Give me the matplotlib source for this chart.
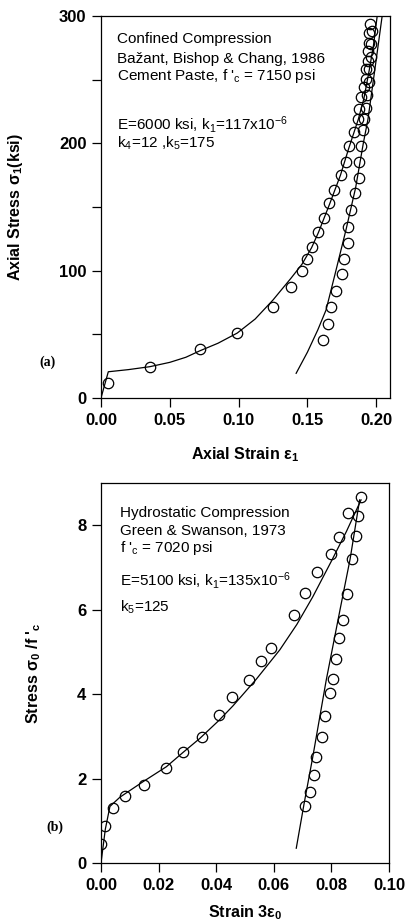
import matplotlib
matplotlib.use("Agg")
import matplotlib.pyplot as plt
from matplotlib.ticker import MultipleLocator, NullFormatter

plt.rcParams['font.family'] = ['Liberation Sans', 'DejaVu Sans']
plt.rcParams['mathtext.fontset'] = 'custom'
plt.rcParams['mathtext.rm'] = 'Liberation Sans'
plt.rcParams['mathtext.it'] = 'Liberation Sans:italic'
plt.rcParams['mathtext.bf'] = 'Liberation Sans:bold'
plt.rcParams['mathtext.default'] = 'regular'

# ---------------- Panel (a): confined compression ----------------
a_load_pts_strain = [0.0053, 0.0355, 0.0717, 0.099, 0.125, 0.138, 0.1457, 0.1495, 0.1534,
                     0.158, 0.1623, 0.166, 0.1696, 0.1744, 0.178, 0.1804, 0.184, 0.1865,
                     0.1877, 0.1889, 0.1913, 0.1925, 0.1925, 0.1937, 0.1942, 0.195, 0.195, 0.1955]
a_load_pts_stress = [11.5, 24.6, 38.2, 50.8, 71.5, 87.4, 99.5, 109, 118.4,
                     130.6, 141, 153, 163.4, 175, 185, 198, 209, 219,
                     227, 236, 244, 250.5, 258, 264.7, 272.5, 279, 287, 294]
a_unl_pts_strain = [0.161, 0.1652, 0.167, 0.1708, 0.1749, 0.1763, 0.1792, 0.1792, 0.1817,
                    0.1848, 0.1872, 0.1877, 0.1889, 0.1906, 0.1913, 0.1925, 0.1935, 0.1945,
                    0.195, 0.196, 0.1965, 0.197]
a_unl_pts_stress = [45.6, 57.9, 71.7, 84.3, 97.4, 109, 122, 134.6, 147.7,
                    160.8, 172.6, 185.6, 198, 210.6, 219, 228, 238, 248,
                    258, 268, 278, 288]
a_load_line_strain = [0.0, 0.0053, 0.02, 0.0355, 0.05, 0.0617, 0.0717, 0.085, 0.099, 0.112,
                      0.125, 0.138, 0.146, 0.153, 0.158, 0.166, 0.174, 0.18, 0.187, 0.191,
                      0.195, 0.198, 0.2007]
a_load_line_stress = [0.0, 20.6, 22.3, 24.6, 28.0, 32.0, 37.0, 43.0, 51.0, 62.0,
                      77.0, 94, 105, 118, 130, 152, 175, 196, 219, 235,
                      258, 277, 300]
a_unl_line_strain = [0.1418, 0.150, 0.1575, 0.1635, 0.170, 0.178, 0.185, 0.1906, 0.194, 0.199, 0.2043]
a_unl_line_stress = [19.4, 36, 53.4, 69, 97, 132, 165, 200, 219, 258, 300]

a_texts = ["Confined Compression",
           "Ba\u017eant, Bishop & Chang, 1986",
           "Cement Paste, f '$_{c}$ = 7150 psi",
           "E=6000 ksi, k$_{1}$=117x10$^{-6}$",
           "k$_{4}$=12 ,k$_{5}$=175"]

# ---------------- Panel (b): hydrostatic compression ----------------
b_load_pts_strain = [0.0, 0.0014, 0.0043, 0.0084, 0.0149, 0.0224, 0.0284, 0.0349, 0.0409, 0.0456,
                     0.0514, 0.0557, 0.0592, 0.0669, 0.0709, 0.0751, 0.0797, 0.0828, 0.0857, 0.0903]
b_load_pts_stress = [0.45, 0.87, 1.3, 1.58, 1.85, 2.24, 2.62, 2.99, 3.51, 3.92,
                     4.33, 4.78, 5.1, 5.88, 6.4, 6.9, 7.31, 7.71, 8.28, 8.68]
b_unl_pts_strain = [0.0892, 0.0886, 0.0872, 0.0854, 0.084, 0.0828, 0.0817, 0.0805, 0.0796,
                    0.0779, 0.0767, 0.0748, 0.0738, 0.0724, 0.071]
b_unl_pts_stress = [8.22, 7.74, 7.2, 6.37, 5.75, 5.32, 4.82, 4.36, 4.02,
                    3.47, 2.99, 2.52, 2.09, 1.67, 1.35]
b_load_line_strain = [0.0, 0.0015, 0.0031, 0.0066, 0.0147, 0.0227, 0.0285, 0.0343, 0.041, 0.0458,
                      0.054, 0.0621, 0.068, 0.0735, 0.08, 0.0852, 0.0903]
b_load_line_stress = [0.0, 0.8, 1.34, 1.56, 1.93, 2.28, 2.62, 2.95, 3.38, 3.72,
                      4.36, 5.05, 5.65, 6.3, 7.15, 7.85, 8.6]
b_unl_line_strain = [0.0678, 0.0705, 0.0735, 0.0782, 0.083, 0.0865, 0.0898]
b_unl_line_stress = [0.35, 1.4, 2.5, 4.33, 6.0, 7.2, 8.6]

b_texts = ["Hydrostatic Compression",
           "Green & Swanson, 1973",
           "f '$_{c}$ = 7020 psi",
           "E=5100 ksi, k$_{1}$=135x10$^{-6}$",
           "k$_{5}$=125"]

W, H = 408, 922
fig = plt.figure(figsize=(W / 100, H / 100), dpi=100)


def px_axes(l, t, r, b):
    return fig.add_axes([l / W, 1 - b / H, (r - l) / W, (b - t) / H])


def style(ax):
    for s in ax.spines.values():
        s.set_linewidth(0.9)
    ax.tick_params(which='both', direction='out', length=6.5, width=0.9, pad=4,
                   labelsize=12)
    for lab in ax.get_xticklabels() + ax.get_yticklabels():
        lab.set_fontweight('bold')


mk = dict(linestyle='none', marker='o', markersize=7.5, markerfacecolor='none',
          markeredgecolor='black', markeredgewidth=0.9)
ln = dict(color='black', linewidth=0.9)

# Panel a
axa = px_axes(101, 16, 390, 398)
axa.plot(a_load_line_strain, a_load_line_stress, **ln)
axa.plot(a_unl_line_strain, a_unl_line_stress, **ln)
axa.plot(a_load_pts_strain, a_load_pts_stress, **mk)
axa.plot(a_unl_pts_strain, a_unl_pts_stress, **mk)
axa.set_xlim(0, 0.21)
axa.set_ylim(0, 300)
axa.set_xticks([0.0, 0.05, 0.10, 0.15, 0.20])
axa.set_xticklabels(['0.00', '0.05', '0.10', '0.15', '0.20'])
axa.yaxis.set_major_locator(MultipleLocator(100))
axa.yaxis.set_minor_locator(MultipleLocator(50))
axa.yaxis.set_minor_formatter(NullFormatter())
style(axa)
axa.set_xlabel("Axial Strain \u03b5$_{\\mathbf{1}}$", fontsize=11.5, fontweight='bold')
axa.xaxis.set_label_coords(0.5, -0.125)
axa.set_ylabel("Axial Stress \u03c3$_{\\mathbf{1}}$(ksi)", fontsize=11.5, fontweight='bold')
axa.yaxis.set_label_coords(-0.262, 0.5)

# Panel b
axb = px_axes(101, 483, 389, 863)
axb.plot(b_load_line_strain, b_load_line_stress, **ln)
axb.plot(b_unl_line_strain, b_unl_line_stress, **ln)
axb.plot(b_load_pts_strain, b_load_pts_stress, **mk)
axb.plot(b_unl_pts_strain, b_unl_pts_stress, **mk)
axb.set_xlim(0, 0.10)
axb.set_ylim(0, 9)
axb.set_xticks([0.0, 0.02, 0.04, 0.06, 0.08, 0.10])
axb.set_xticklabels(['0.00', '0.02', '0.04', '0.06', '0.08', '0.10'])
axb.set_yticks([0, 2, 4, 6, 8])
style(axb)
axb.set_xlabel("Strain 3\u03b5$_{\\mathbf{0}}$", fontsize=11.5, fontweight='bold')
axb.xaxis.set_label_coords(0.5, -0.105)
axb.set_ylabel("Stress \u03c3$_{\\mathbf{0}}$ /f '$_{\\mathbf{c}}$", fontsize=11.5, fontweight='bold')
axb.yaxis.set_label_coords(-0.20, 0.5)

# annotations
a_y = [43, 63, 80, 130, 148]
for s, y in zip(a_texts, a_y):
    fig.text(117 / W, 1 - y / H, s, fontsize=11, va='baseline', ha='left')
b_y = [517, 535, 552, 586, 612]
for s, y in zip(b_texts, b_y):
    fig.text(120 / W, 1 - y / H, s, fontsize=11, va='baseline', ha='left')

fig.text(48 / W, 1 - 362 / H, "(a)", fontsize=10, fontweight='bold',
         family='Liberation Serif', ha='center', va='center')
fig.text(55 / W, 1 - 827 / H, "(b)", fontsize=10, fontweight='bold',
         family='Liberation Serif', ha='center', va='center')

fig.savefig("out.png", dpi=100)
